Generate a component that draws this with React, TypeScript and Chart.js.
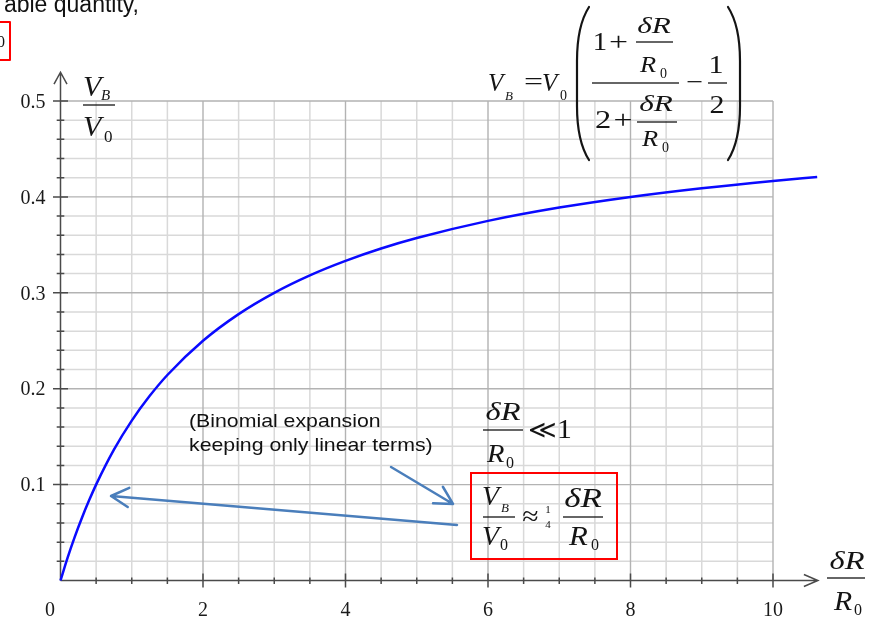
import React, { useEffect, useRef } from "react";
import { Chart, registerables } from "chart.js";

Chart.register(...registerables);

// Bridge output V_B/V0 against the fractional resistance change δR/R0
const resistanceRatio = [0, 0.1, 0.2, 0.3, 0.4, 0.5, 0.75, 1, 1.25, 1.5, 2, 2.5, 3, 3.5, 4, 4.5, 5, 6, 7, 8, 9, 10, 10.62];
const bridgeOutput = [0, 0.0238, 0.0455, 0.0652, 0.0833, 0.1, 0.1364, 0.1667, 0.1923, 0.2143, 0.25, 0.2778, 0.3, 0.3182, 0.3333, 0.3462, 0.3571, 0.375, 0.3889, 0.4, 0.4091, 0.4167, 0.4208];

const xTickValues = [0, 2, 4, 6, 8, 10];
const xTickLabels = ["0", "2", "4", "6", "8", "10"];
const yTickValues = [0.1, 0.2, 0.3, 0.4, 0.5];
const yTickLabels = ["0.1", "0.2", "0.3", "0.4", "0.5"];

// Annotation arrows in axis units: [tailX, tailY, tipX, tipY]
const approxArrow = [5.565, 0.0579, 0.709, 0.0881];
const noteArrow = [4.639, 0.1184, 5.509, 0.0798];

const X_MAX = 10.7;
const Y_MAX = 0.535;
const GRID_X_END = 10;
const GRID_Y_END = 0.5;
const AXIS_X_TIP = 10.63;
const AXIS_Y_TIP = 0.53;

const SERIF = '"Liberation Serif", "Times New Roman", serif';
const SANS = '"Liberation Sans", Arial, sans-serif';
const INK = "#141414";

// serif text with an optional horizontal stretch
function txt(
  ctx: CanvasRenderingContext2D,
  s: string,
  x: number,
  y: number,
  size: number,
  italic = false,
  align: CanvasTextAlign = "left",
  sx = 1
) {
  ctx.save();
  ctx.font = `${italic ? "italic " : ""}${size}px ${SERIF}`;
  ctx.textAlign = align;
  ctx.textBaseline = "alphabetic";
  ctx.fillStyle = INK;
  ctx.translate(x, y);
  ctx.scale(sx, 1);
  ctx.fillText(s, 0, 0);
  ctx.restore();
}

function sans(ctx: CanvasRenderingContext2D, s: string, x: number, y: number, size: number, align: CanvasTextAlign = "left", sx = 1.12) {
  ctx.save();
  ctx.font = `${size}px ${SANS}`;
  ctx.textAlign = align;
  ctx.textBaseline = "alphabetic";
  ctx.fillStyle = "#111";
  ctx.translate(x, y);
  ctx.scale(sx, 1);
  ctx.fillText(s, 0, 0);
  ctx.restore();
}

function bar(ctx: CanvasRenderingContext2D, x1: number, x2: number, y: number) {
  ctx.fillStyle = INK;
  ctx.fillRect(x1, y - 0.65, x2 - x1, 1.3);
}

function tallParen(ctx: CanvasRenderingContext2D, xEnd: number, xMid: number, yTop: number, yBot: number) {
  const d = xEnd - xMid;
  ctx.save();
  ctx.strokeStyle = INK;
  ctx.lineWidth = 2.2;
  ctx.lineCap = "round";
  ctx.beginPath();
  ctx.moveTo(xEnd, yTop);
  ctx.bezierCurveTo(xMid + d * 0.25, yTop + 14, xMid, yTop + 34, xMid, yTop + 54);
  ctx.lineTo(xMid, yBot - 54);
  ctx.bezierCurveTo(xMid, yBot - 34, xMid + d * 0.25, yBot - 14, xEnd, yBot);
  ctx.stroke();
  ctx.restore();
}

function arrow(ctx: CanvasRenderingContext2D, x1: number, y1: number, x2: number, y2: number, len: number, ang: number) {
  const a = Math.atan2(y1 - y2, x1 - x2);
  ctx.beginPath();
  ctx.moveTo(x1, y1);
  ctx.lineTo(x2, y2);
  ctx.moveTo(x2 + len * Math.cos(a + ang), y2 + len * Math.sin(a + ang));
  ctx.lineTo(x2, y2);
  ctx.lineTo(x2 + len * Math.cos(a - ang), y2 + len * Math.sin(a - ang));
  ctx.stroke();
}

const gridAndAxes = {
  id: "gridAndAxes",
  beforeDatasetsDraw(chart: any) {
    const ctx: CanvasRenderingContext2D = chart.ctx;
    const xs = chart.scales.x;
    const ys = chart.scales.y;
    const X = (v: number) => xs.getPixelForValue(v);
    const Y = (v: number) => ys.getPixelForValue(v);
    ctx.save();

    // minor grid
    ctx.strokeStyle = "#d9d9d9";
    ctx.lineWidth = 1.5;
    ctx.beginPath();
    for (let i = 1; i <= GRID_X_END * 2; i++) {
      const v = i * 0.5;
      if (i % 4 === 0) continue;
      ctx.moveTo(X(v), Y(0));
      ctx.lineTo(X(v), Y(GRID_Y_END));
    }
    for (let j = 1; j <= 25; j++) {
      if (j % 5 === 0) continue;
      const v = j * 0.02;
      ctx.moveTo(X(0), Y(v));
      ctx.lineTo(X(GRID_X_END), Y(v));
    }
    ctx.stroke();

    // major grid
    ctx.strokeStyle = "#b3b3b3";
    ctx.lineWidth = 1.4;
    ctx.beginPath();
    for (const v of xTickValues) {
      if (v === 0) continue;
      ctx.moveTo(X(v), Y(0));
      ctx.lineTo(X(v), Y(GRID_Y_END));
    }
    for (const v of yTickValues) {
      ctx.moveTo(X(0), Y(v));
      ctx.lineTo(X(GRID_X_END), Y(v));
    }
    ctx.stroke();

    // axes with open arrow heads
    const x0 = X(0);
    const y0 = Y(0);
    ctx.strokeStyle = "#4a4a4a";
    ctx.lineWidth = 1.5;
    ctx.beginPath();
    ctx.moveTo(x0, y0);
    ctx.lineTo(x0, Y(AXIS_Y_TIP));
    ctx.moveTo(x0 - 6.5, Y(AXIS_Y_TIP) + 12);
    ctx.lineTo(x0, Y(AXIS_Y_TIP));
    ctx.lineTo(x0 + 6.5, Y(AXIS_Y_TIP) + 12);
    ctx.moveTo(x0, y0);
    ctx.lineTo(X(AXIS_X_TIP), y0);
    ctx.moveTo(X(AXIS_X_TIP) - 14, y0 - 6);
    ctx.lineTo(X(AXIS_X_TIP), y0);
    ctx.lineTo(X(AXIS_X_TIP) - 14, y0 + 6);

    // y ticks
    for (let j = 1; j <= 25; j++) {
      const py = Y(j * 0.02);
      const major = j % 5 === 0;
      ctx.moveTo(x0 - (major ? 7.5 : 3.8), py);
      ctx.lineTo(x0 + (major ? 7.5 : 3.8), py);
    }
    // x ticks
    for (let i = 1; i <= GRID_X_END * 2; i++) {
      const px = X(i * 0.5);
      const major = i % 4 === 0;
      ctx.moveTo(px, y0 - (major ? 7 : 3));
      ctx.lineTo(px, y0 + (major ? 7 : 3.5));
    }
    ctx.stroke();

    // tick labels
    ctx.font = `20px ${SERIF}`;
    ctx.fillStyle = "#1a1a1a";
    ctx.textBaseline = "alphabetic";
    ctx.textAlign = "center";
    xTickValues.forEach((v, i) => {
      const px = v === 0 ? X(v) - 10.5 : X(v);
      ctx.fillText(xTickLabels[i], px, 616);
    });
    ctx.textAlign = "right";
    ctx.textBaseline = "middle";
    yTickValues.forEach((v, i) => {
      ctx.fillText(yTickLabels[i], 45.5, Y(v) + 1.5);
    });
    ctx.restore();
  },
  afterDatasetsDraw(chart: any) {
    const ctx: CanvasRenderingContext2D = chart.ctx;
    const xs = chart.scales.x;
    const ys = chart.scales.y;
    const X = (v: number) => xs.getPixelForValue(v);
    const Y = (v: number) => ys.getPixelForValue(v);
    ctx.save();

    // y-axis caption V_B / V_0
    txt(ctx, "V", 83, 96, 30, true);
    txt(ctx, "B", 101, 100, 15, true);
    bar(ctx, 83, 115, 105);
    txt(ctx, "V", 83, 136, 30, true);
    txt(ctx, "0", 104, 142, 17);

    // x-axis caption δR / R_0
    txt(ctx, "δR", 847, 569, 26, true, "center", 1.25);
    bar(ctx, 827, 865, 578);
    txt(ctx, "R", 834, 610, 27, true, "left", 1.1);
    txt(ctx, "0", 854, 615, 16);

    // exact bridge relation
    txt(ctx, "V", 488, 91, 25, true);
    txt(ctx, "B", 505, 100, 13, true);
    txt(ctx, "=", 533.5, 90, 26, false, "center", 1.3);
    txt(ctx, "V", 542, 91, 25, true);
    txt(ctx, "0", 560, 100, 14);
    tallParen(ctx, 589, 577, 7, 160);
    tallParen(ctx, 728, 740, 7, 160);
    txt(ctx, "1", 600, 50, 25, false, "center", 1.15);
    txt(ctx, "+", 618.5, 50, 25, false, "center", 1.35);
    txt(ctx, "δR", 654, 33, 24, true, "center", 1.3);
    bar(ctx, 636, 673, 42);
    txt(ctx, "R", 640, 72, 24, true, "left", 1.1);
    txt(ctx, "0", 660, 78, 14);
    bar(ctx, 592, 679, 83);
    txt(ctx, "2", 603, 128, 25, false, "center", 1.3);
    txt(ctx, "+", 623, 128, 25, false, "center", 1.35);
    txt(ctx, "δR", 656, 111, 24, true, "center", 1.3);
    bar(ctx, 637, 677, 122);
    txt(ctx, "R", 642, 146, 24, true, "left", 1.1);
    txt(ctx, "0", 662, 152, 14);
    txt(ctx, "−", 694.5, 90, 25, false, "center", 1.2);
    txt(ctx, "1", 716, 73, 25, false, "center", 1.2);
    bar(ctx, 708, 727, 83);
    txt(ctx, "2", 717, 113, 25, false, "center", 1.2);

    // small-change condition
    txt(ctx, "δR", 503, 420, 26, true, "center", 1.25);
    bar(ctx, 483, 523, 430);
    txt(ctx, "R", 487, 462, 26, true, "left", 1.1);
    txt(ctx, "0", 506, 468, 16);
    txt(ctx, "≪", 528, 438, 25, false, "left", 1.1);
    txt(ctx, "1", 557, 438, 27, false, "left", 1.1);

    // linear approximation in a red box
    ctx.strokeStyle = "#ff0000";
    ctx.lineWidth = 2;
    ctx.strokeRect(471, 473, 146, 86);
    txt(ctx, "V", 482, 505, 28, true);
    txt(ctx, "B", 501, 512, 13, true);
    bar(ctx, 483, 515, 517);
    txt(ctx, "V", 482, 545, 28, true);
    txt(ctx, "0", 500, 550, 16);
    txt(ctx, "≈", 530.5, 525, 27, false, "center", 1.1);
    txt(ctx, "1", 548, 513, 11, false, "center");
    txt(ctx, "4", 548, 528, 11, false, "center");
    txt(ctx, "δR", 583, 507, 28, true, "center", 1.25);
    bar(ctx, 563, 603, 517);
    txt(ctx, "R", 569, 545, 28, true, "left", 1.1);
    txt(ctx, "0", 591, 550, 16);

    // explanatory note
    sans(ctx, "(Binomial expansion", 189, 427, 19);
    sans(ctx, "keeping only linear terms)", 189, 451, 19);

    // arrows
    ctx.strokeStyle = "#4a7ebb";
    ctx.lineWidth = 2.5;
    ctx.lineCap = "round";
    ctx.lineJoin = "round";
    arrow(ctx, X(approxArrow[0]), Y(approxArrow[1]), X(approxArrow[2]), Y(approxArrow[3]), 20, 0.5);
    arrow(ctx, X(noteArrow[0]), Y(noteArrow[1]), X(noteArrow[2]), Y(noteArrow[3]), 20, 0.5);

    // running text from above the figure
    sans(ctx, "able quantity,", 139, 12, 23, "right", 1);
    ctx.strokeStyle = "#ff0000";
    ctx.lineWidth = 2;
    ctx.strokeRect(-6, 22, 16, 38);
    txt(ctx, "0", -3, 47, 16);

    ctx.restore();
  },
};

export default function App() {
  const canvasRef = useRef<HTMLCanvasElement | null>(null);

  useEffect(() => {
    document.body.style.margin = "0";
    const canvas = canvasRef.current;
    if (!canvas) return;
    const points = resistanceRatio.map((x, i) => ({ x, y: bridgeOutput[i] }));
    const chart = new Chart(canvas, {
      type: "line",
      data: {
        datasets: [
          {
            data: points,
            borderColor: "#0a0aff",
            borderWidth: 2.5,
            pointRadius: 0,
            fill: false,
            cubicInterpolationMode: "monotone",
            clip: false as any,
          },
        ],
      },
      options: {
        animation: false,
        responsive: false,
        devicePixelRatio: 1,
        layout: { padding: { left: 60.5, right: 870 - (60.5 + 71.25 * X_MAX), top: 580.5 - 959 * Y_MAX, bottom: 37.5 } },
        plugins: { legend: { display: false }, tooltip: { enabled: false } },
        scales: {
          x: { type: "linear", min: 0, max: X_MAX, display: false },
          y: { type: "linear", min: 0, max: Y_MAX, display: false },
        },
      },
      plugins: [gridAndAxes],
    });
    return () => chart.destroy();
  }, []);

  return (
    <div style={{ width: 870, height: 618 }}>
      <canvas ref={canvasRef} width={870} height={618} style={{ display: "block" }} />
    </div>
  );
}
